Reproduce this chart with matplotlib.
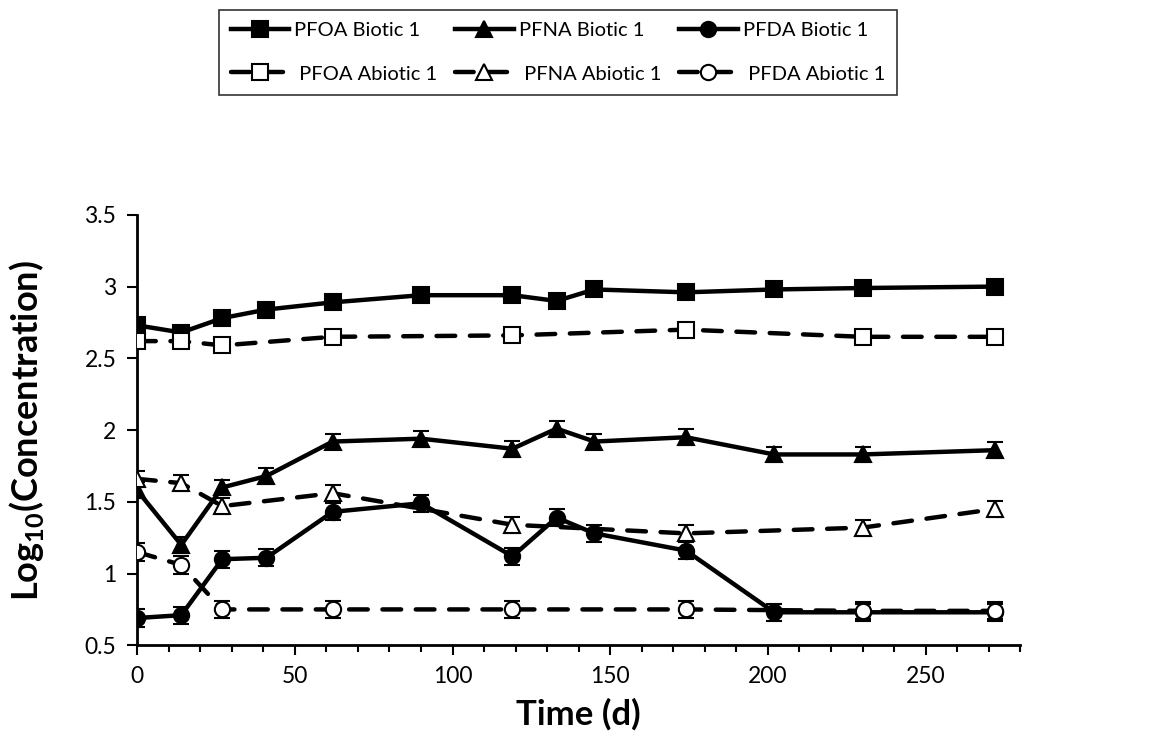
import matplotlib
matplotlib.use("Agg")
import matplotlib.pyplot as plt
from matplotlib.ticker import MultipleLocator

plt.rcParams["font.family"] = ["Lato", "DejaVu Sans"]
plt.rcParams["mathtext.fontset"] = "custom"
plt.rcParams["mathtext.rm"] = "Lato:bold"
plt.rcParams["mathtext.bf"] = "Lato:bold"

#sampling days
days_bio = [0, 14, 27, 41, 62, 90, 119, 133, 145, 174, 202, 230, 272]
days_abio = [0, 14, 27, 62, 119, 174, 230, 272]

#biotic series (log10 concentration)
pfoa_bio = [2.73, 2.68, 2.78, 2.84, 2.89, 2.94, 2.94, 2.90, 2.98, 2.96, 2.98, 2.99, 3.00]
pfna_bio = [1.58, 1.20, 1.60, 1.68, 1.92, 1.94, 1.87, 2.01, 1.92, 1.95, 1.83, 1.83, 1.86]
pfda_bio = [0.69, 0.71, 1.10, 1.11, 1.43, 1.49, 1.12, 1.39, 1.28, 1.16, 0.73, 0.73, 0.73]

#abiotic series
pfoa_abio = [2.62, 2.62, 2.59, 2.65, 2.66, 2.70, 2.65, 2.65]
pfna_abio = [1.66, 1.63, 1.47, 1.56, 1.34, 1.28, 1.32, 1.45]
pfda_abio = [1.15, 1.06, 0.75, 0.75, 0.75, 0.75, 0.74, 0.74]

#error bars
err_pfoa = 0.045
err_pfna = 0.055
err_pfda = 0.06

series = [
    ("PFOA Biotic 1", days_bio, pfoa_bio, err_pfoa, "s", "black", "-"),
    ("PFNA Biotic 1", days_bio, pfna_bio, err_pfna, "^", "black", "-"),
    ("PFDA Biotic 1", days_bio, pfda_bio, err_pfda, "o", "black", "-"),
    ("PFOA Abiotic 1", days_abio, pfoa_abio, err_pfoa, "s", "white", "--"),
    ("PFNA Abiotic 1", days_abio, pfna_abio, err_pfna, "^", "white", "--"),
    ("PFDA Abiotic 1", days_abio, pfda_abio, err_pfda, "o", "white", "--"),
]

fig = plt.figure(figsize=(11.62, 7.46), dpi=100)
ax = fig.add_axes([0.118, 0.135, 0.76, 0.577])

handles = {}
for z, (name, x, y, e, mk, fc, ls) in enumerate(series):
    ax.errorbar(x, y, yerr=e, fmt="none", ecolor="black",
                elinewidth=1.5, capsize=6, capthick=1.5, zorder=2 + 2 * z)
    line, = ax.plot(x, y, color="black", lw=3.2, marker=mk, markersize=11,
                    markerfacecolor=fc, markeredgecolor="black", markeredgewidth=1.5,
                    zorder=3 + 2 * z, label=name)
    if ls == "--":
        line.set_dashes((4.2, 3.3))
        line.set_dash_capstyle("round")
    handles[name] = line

ax.set_xlim(0, 280)
ax.set_ylim(0.5, 3.5)
ax.xaxis.set_major_locator(MultipleLocator(50))
ax.xaxis.set_minor_locator(MultipleLocator(10))
ax.yaxis.set_major_locator(MultipleLocator(0.5))
ax.yaxis.set_major_formatter(plt.FuncFormatter(lambda v, p: f"{v:g}"))

for s in ["top", "right"]:
    ax.spines[s].set_visible(False)
for s in ["left", "bottom"]:
    ax.spines[s].set_linewidth(2)

ax.tick_params(axis="both", which="major", direction="out", length=7, width=1.5,
               labelsize=16.5, pad=8)
ax.tick_params(axis="x", which="minor", direction="out", length=5, width=1.5)

ax.set_xlabel("Time (d)", fontsize=25, fontweight="bold", labelpad=8)
ax.set_ylabel(r"Log$_{10}$(Concentration)", fontsize=26, fontweight="bold")
ax.yaxis.set_label_coords(-0.103, 0.5)

order = ["PFOA Biotic 1", "PFOA Abiotic 1", "PFNA Biotic 1",
         "PFNA Abiotic 1", "PFDA Biotic 1", "PFDA Abiotic 1"]
labels = [n if "Biotic" in n else " " + n for n in order]
leg = fig.legend([handles[n] for n in order], labels, ncol=3,
                 loc="upper center", bbox_to_anchor=(0.48, 1.0),
                 fontsize=14.5, frameon=True, fancybox=False, edgecolor="black",
                 handlelength=2.9, columnspacing=0.9, labelspacing=1.3,
                 borderpad=0.6, handletextpad=0.25)
leg.get_frame().set_linewidth(1.2)

fig.savefig("out.png", dpi=100)
